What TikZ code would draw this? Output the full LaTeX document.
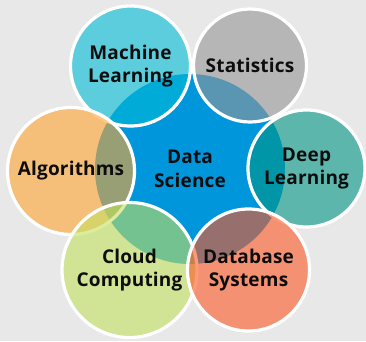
\documentclass[tikz,border=0pt]{standalone}
\usepackage{fontspec}
\usepackage{tikz}
\usetikzlibrary{positioning}
\newfontfamily\labelfont{Open Sans}[LetterSpace=1]
\definecolor{bgGrey}{RGB}{232,232,232}
\definecolor{hubBlue}{RGB}{0,150,220}
\definecolor{mlCyan}{RGB}{0,187,212}
\definecolor{statGrey}{RGB}{150,150,150}
\definecolor{deepTeal}{RGB}{0,149,132}
\definecolor{dbSalmon}{RGB}{252,87,37}
\definecolor{cloudGreen}{RGB}{195,224,95}
\definecolor{algOrange}{RGB}{254,165,49}
\tikzset{%
	% Specifications for style of nodes:
	label/.style = {align=center, text=black!95,
		font=\labelfont\bfseries\fontsize{19}{23.5}\selectfont},
	hub/.style = {label, circle, inner sep=0pt, fill=hubBlue},
	field/.style = {label, circle, inner sep=0pt, draw=white,
		line width=3.2pt, fill opacity=0.6, text opacity=1}
}

\begin{document}
\begin{tikzpicture}[x=1pt, y=-1pt]
		\fill[bgGrey] (0,0) rectangle (366,341);
		\useasboundingbox (0,0) rectangle (366,341);
		\node (dataScience) [hub, minimum size=190pt] at (190,169) {Data\\Science};
		\node (machineLearning) [field, fill=mlCyan, minimum size=120pt] at (130.5,66) {Machine\\Learning};
		\node (statistics) [field, fill=statGrey, minimum size=113pt] at (250,65.5) {Statistics};
		\node (deepLearning) [field, fill=deepTeal, minimum size=117pt] at (306.5,168.5) {Deep\\Learning};
		\node (algorithms) [field, fill=algOrange, minimum size=127pt] at (71,171) {Algorithms};
		\node (cloudComputing) [field, fill=cloudGreen, minimum size=135pt] at (129.5,270) {Cloud\\Computing};
		\node (databaseSystems) [field, fill=dbSalmon, minimum size=122pt] at (248.5,270) {Database\\Systems};
	\end{tikzpicture}
\end{document}
